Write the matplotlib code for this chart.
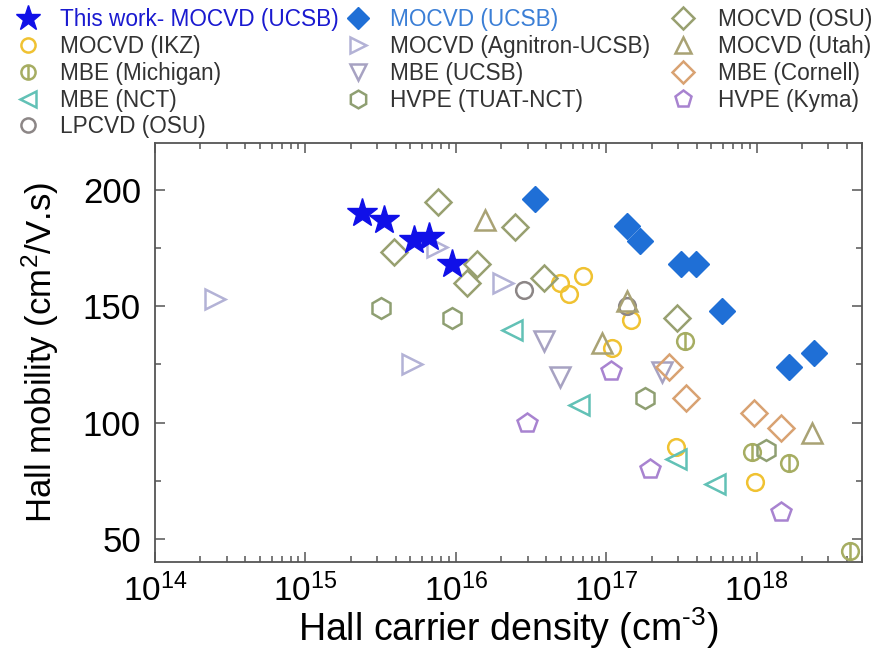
import numpy as np
import matplotlib
matplotlib.use("Agg")
import matplotlib.pyplot as plt
from matplotlib.path import Path
from matplotlib.ticker import FixedLocator, LogLocator, FuncFormatter, NullFormatter

plt.rcParams['font.family'] = ['Liberation Sans', 'DejaVu Sans']

# Hall carrier density (cm^-3) and Hall mobility (cm^2/V.s) for each group
this_work_n = [2.37e15, 3.33e15, 5.27e15, 6.63e15, 9.4e15]
this_work_mu = [190, 187, 178.5, 179.5, 168]

ucsb_mocvd_n = [3.34e16, 1.37e17, 1.67e17, 3.12e17, 3.93e17, 5.84e17, 1.65e18, 2.42e18]
ucsb_mocvd_mu = [196, 184.5, 178, 168, 168, 148, 124, 130]

osu_mocvd_n = [7.63e15, 3.88e15, 1.39e16, 1.18e16, 2.46e16, 3.83e16, 2.97e17]
osu_mocvd_mu = [194.5, 173, 168, 160, 184, 162, 145]

ikz_n = [4.89e16, 5.63e16, 6.97e16, 1.46e17, 1.09e17, 2.93e17, 9.7e17]
ikz_mu = [160, 155, 163, 144, 132, 89.5, 74.5]

agnitron_n = [2.5e14, 5.08e15, 7.45e15, 2.06e16]
agnitron_mu = [153, 125, 175.5, 160]

utah_n = [1.56e16, 9.35e16, 1.37e17, 2.32e18]
utah_mu = [187, 134, 152, 95.5]

michigan_n = [3.32e17, 9.3e17, 1.65e18, 4.17e18]
michigan_mu = [135, 87.5, 82.5, 45]

mbe_ucsb_n = [3.85e16, 4.89e16, 2.33e17]
mbe_ucsb_mu = [135, 119.5, 121.5]

cornell_n = [2.61e17, 3.4e17, 9.55e17, 1.46e18]
cornell_mu = [124, 110.5, 104, 97.5]

nct_n = [2.38e16, 6.56e16, 2.93e17, 5.27e17]
nct_mu = [139.5, 107.5, 84.5, 73.5]

tuat_n = [3.17e15, 9.5e15, 1.8e17, 1.15e18]
tuat_mu = [149, 145, 110.5, 88]

kyma_n = [2.97e16, 1.08e17, 1.95e17, 1.46e18]
kyma_mu = [100, 122, 80, 61.5]

lpcvd_n = [2.86e16, 1.37e17]
lpcvd_mu = [157, 150]

y_ticks = [50, 100, 150, 200]
x_decades = [14, 15, 16, 17, 18]

# circle with a vertical bar
circ = Path.unit_circle()
bar_marker = Path(np.concatenate([circ.vertices, [[0, -1], [0, 1]]]),
                  np.concatenate([circ.codes, [Path.MOVETO, Path.LINETO]]))

series = [
    # label, n, mu, marker, color, size, filled
    ("This work- MOCVD (UCSB)", this_work_n, this_work_mu, '*', '#1010e8', 22, True),
    ("MOCVD (IKZ)", ikz_n, ikz_mu, 'o', '#f0c232', 12, False),
    ("MBE (Michigan)", michigan_n, michigan_mu, bar_marker, '#a6ad62', 12, False),
    ("MBE (NCT)", nct_n, nct_mu, '<', '#62c1b6', 14, False),
    ("LPCVD (OSU)", lpcvd_n, lpcvd_mu, 'o', '#8c8686', 12, False),
    ("MOCVD (UCSB)", ucsb_mocvd_n, ucsb_mocvd_mu, 'D', '#1f6fd6', 13, True),
    ("MOCVD (Agnitron-UCSB)", agnitron_n, agnitron_mu, '>', '#b3b2d6', 14, False),
    ("MBE (UCSB)", mbe_ucsb_n, mbe_ucsb_mu, 'v', '#a7a2c2', 14, False),
    ("HVPE (TUAT-NCT)", tuat_n, tuat_mu, 'h', '#8f9f72', 15, False),
    ("MOCVD (OSU)", osu_mocvd_n, osu_mocvd_mu, 'D', '#98a070', 13, False),
    ("MOCVD (Utah)", utah_n, utah_mu, '^', '#a9a274', 14, False),
    ("MBE (Cornell)", cornell_n, cornell_mu, 'D', '#d9a272', 13, False),
    ("HVPE (Kyma)", kyma_n, kyma_mu, 'p', '#a883d0', 15, False),
]

fig = plt.figure(figsize=(8.75, 6.5), dpi=100)
ax = fig.add_axes([0.177, 0.135, 0.808, 0.645])

handles = []
for label, n, mu, mk, col, ms, filled in series:
    z = 10 if label.startswith("This work") else (5 if filled else 3)
    if filled:
        h, = ax.plot(n, mu, ls='none', marker=mk, ms=ms, color=col,
                     markeredgecolor=col, zorder=z, label=label)
    else:
        h, = ax.plot(n, mu, ls='none', marker=mk, ms=ms, markerfacecolor='none',
                     markeredgecolor=col, markeredgewidth=1.8, zorder=z, label=label)
    handles.append(h)

ax.set_xscale('log')
ax.set_xlim(1e14, 5e18)
ax.set_ylim(40, 220)

ax.xaxis.set_major_locator(FixedLocator([10.0 ** d for d in x_decades]))
ax.xaxis.set_major_formatter(FuncFormatter(lambda v, p: r'$\mathregular{10^{%d}}$' % round(np.log10(v))))
ax.xaxis.set_minor_locator(LogLocator(base=10, subs=np.arange(2, 10)))
ax.xaxis.set_minor_formatter(NullFormatter())
ax.set_yticks(y_ticks)
ax.set_yticks([75, 125, 175], minor=True)

for s in ax.spines.values():
    s.set_color('#555555')
    s.set_linewidth(1.3)
ax.tick_params(which='both', direction='in', top=True, right=True, color='#555555', width=1.1)
ax.tick_params(which='major', length=7)
ax.tick_params(which='minor', length=4)
ax.tick_params(axis='x', which='major', labelsize=24, pad=8)
ax.tick_params(axis='y', which='major', labelsize=25, pad=10)

ax.set_xlabel('Hall carrier density (cm$\\mathregular{^{\u20103}}$)', fontsize=27)
ax.xaxis.set_label_coords(0.5, -0.103)
ax.set_ylabel(r'Hall mobility (cm$\mathregular{^2}$/V.s)', fontsize=25, labelpad=16)

# legend in three columns above the axes
text_colors = {"This work- MOCVD (UCSB)": '#1a1ad0', "MOCVD (UCSB)": '#3b7fd6'}
groups = [(handles[0:5], 28, 0.9), (handles[5:9], 358, 0.9), (handles[9:13], 683, 1.05)]
fs = 16.3
for hs, xc, tpad in groups:
    hl_px = 1.0 * fs * 100 / 72
    leg = fig.legend(handles=hs, loc='upper left',
                     bbox_to_anchor=((xc - hl_px / 2) / 875, 1 - 8 / 650),
                     frameon=False, fontsize=fs, handlelength=1.0, handletextpad=tpad,
                     borderpad=0, borderaxespad=0, labelspacing=0.17, markerscale=0.85)
    for t in leg.get_texts():
        t.set_color(text_colors.get(t.get_text(), '#333333'))

fig.savefig('out.png', dpi=100)
